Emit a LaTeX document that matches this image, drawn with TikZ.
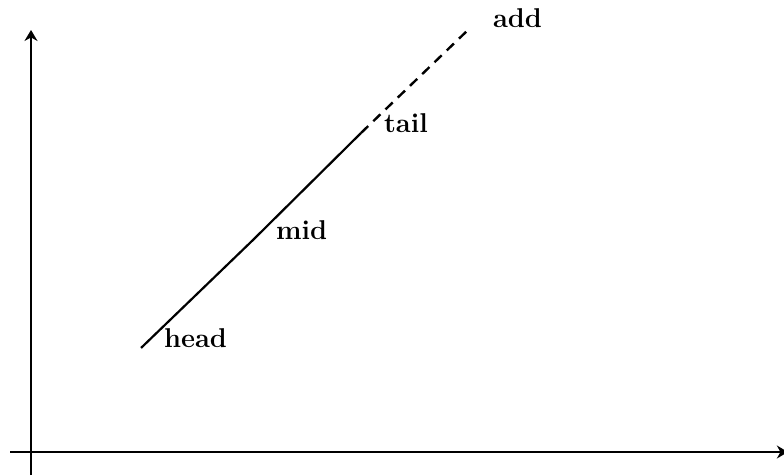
\documentclass[tikz,border=0pt]{standalone}
\usepackage{tikz}
\usetikzlibrary{arrows.meta,positioning}
\tikzset{
  axis/.style={-{Stealth[length=5.5pt,width=6.5pt]}, line width=1.2pt},
  seg/.style={line width=1.1pt},
  ext/.style={line width=1.2pt, dash pattern=on 5pt off 3.5pt},
  lab/.style={anchor=base west, font=\fontsize{13.6}{16}\selectfont\bfseries, xshift=8pt},
}
\begin{document}
\begin{tikzpicture}[scale=1.0]
\useasboundingbox (-0.545,-0.404) rectangle (13.232,7.943);
% axes
\coordinate (ybot) at (0,-0.404);
\coordinate (ytop) at (0,7.416);
\coordinate (xbeg) at (-0.369,0);
\coordinate (xend) at (13.30,0);
\draw[axis] (ybot) -- (ytop);
\draw[axis] (xbeg) -- (xend);
% points on the line
\coordinate (head) at (1.933,1.828);
\coordinate (mid) at (3.901,3.726);
\coordinate (tail) at (5.799,5.606);
\coordinate (add) at (7.715,7.451);
\draw[seg] (head) -- (mid) -- (tail);
\draw[ext] (tail) -- (add);
\node[lab] (headlab) at (head) {head};
\node[lab] (midlab) at (mid) {mid};
\node[lab] (taillab) at (tail) {tail};
\node[lab] (addlab) at (add) {add};
\end{tikzpicture}
\end{document}
